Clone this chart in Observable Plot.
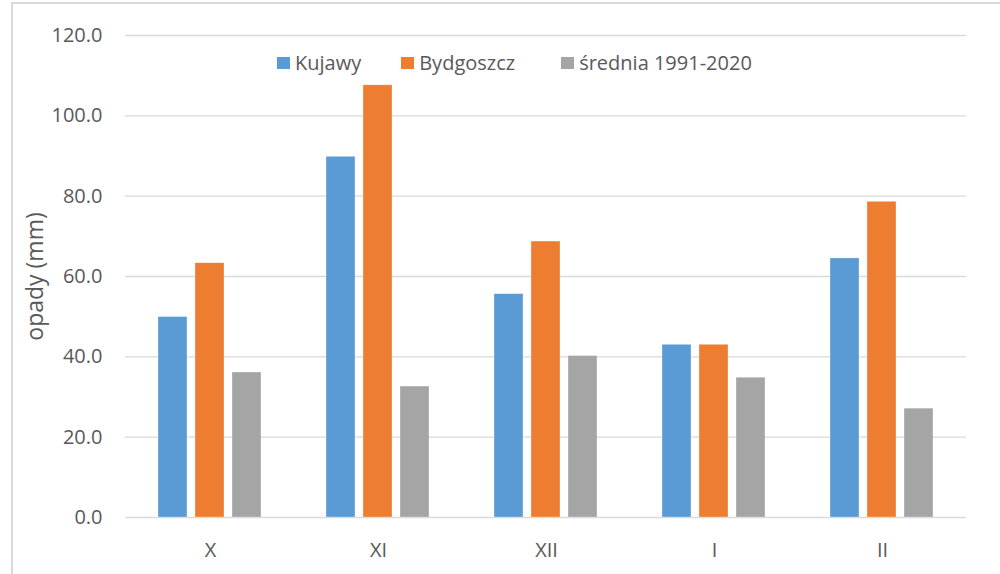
<!DOCTYPE html>
<html>
<head>
<meta charset="utf-8">
<script src="https://cdn.jsdelivr.net/npm/d3@7"></script>
<script src="https://cdn.jsdelivr.net/npm/@observablehq/plot@0.6"></script>
<style>
  html, body { margin: 0; padding: 0; background: white; overflow: hidden; }
  #wrap { position: relative; width: 1000px; height: 574px; overflow: hidden; background: white; }
  #frame { position: absolute; left: 11px; top: 2px; width: 1000px; height: 600px; border: 2px solid #d9d9d9; box-sizing: border-box; pointer-events: none; }
  .layer { position: absolute; left: 0; top: 0; }
  #legend { position: absolute; left: 277px; top: 49px; display: flex; align-items: center; font-family: "Open Sans", sans-serif; font-size: 20px; color: #595959; }
  .item { display: flex; align-items: center; }
  .sw { width: 13px; height: 12px; margin-right: 5px; }
</style>
</head>
<body>
<div id="wrap">
  <div id="base" class="layer"></div>
  <div id="bars" class="layer"></div>
  <div id="legend"></div>
  <div id="frame"></div>
</div>
<script>
const months = ["X", "XI", "XII", "I", "II"];
const series = ["Kujawy", "Bydgoszcz", "średnia 1991-2020"];
const kujawy = [49.9, 89.8, 55.6, 43.0, 64.5];
const bydgoszcz = [63.3, 107.6, 68.7, 43.0, 78.6];
const srednia = [36.1, 32.6, 40.2, 34.8, 27.1];
const colors = ["#5B9BD5", "#ED7D31", "#A5A5A5"];
const yTicks = [0, 20, 40, 60, 80, 100, 120];

const values = [kujawy, bydgoszcz, srednia];
const data = [];
months.forEach((m, i) => {
  series.forEach((s, j) => data.push({month: m, series: s, value: values[j][i]}));
});

const common = {
  width: 1000,
  height: 574,
  marginLeft: 125,
  marginRight: 34,
  marginTop: 35,
  marginBottom: 57,
  y: {domain: [0, 120], ticks: yTicks},
  style: {fontFamily: "Open Sans", fontSize: "20px", color: "#595959", background: "transparent"}
};

// Base layer: gridlines and y axis
const base = Plot.plot({
  ...common,
  marks: [
    Plot.ruleY(yTicks, {stroke: "#d9d9d9", strokeWidth: 1.3}),
    Plot.axisY({ticks: yTicks, tickFormat: d => d.toFixed(1), tickSize: 0, tickPadding: 23,
      label: null, fill: "#595959"}),
    Plot.axisY({ticks: [], tickSize: 0, label: "opady (mm)", labelAnchor: "center", labelArrow: "none",
      labelOffset: 99, fontSize: 23, fill: "#595959"})
  ]
});
document.getElementById("base").appendChild(base);

// Bars layer
const bars = Plot.plot({
  ...common,
  fx: {domain: months, paddingInner: 0.381, paddingOuter: 0.19, label: null},
  x: {domain: series, paddingInner: 0.213, paddingOuter: 0, axis: null},
  color: {domain: series, range: colors},
  marks: [
    Plot.barY(data, {fx: "month", x: "series", y: "value", fill: "series", stroke: "white", strokeOpacity: 0.5, strokeWidth: 0.6}),
    Plot.axisY({ticks: [], label: null, tickSize: 0}),
    Plot.axisFx({anchor: "bottom", tickSize: 0, tickPadding: 25, label: null, fill: "#595959"})
  ]
});
document.getElementById("bars").appendChild(bars);

const legendGaps = [40, 46, 0];
const legend = document.getElementById("legend");
series.forEach((s, j) => {
  const it = document.createElement("div");
  it.className = "item";
  it.style.marginRight = legendGaps[j] + "px";
  const sw = document.createElement("div");
  sw.className = "sw";
  sw.style.background = colors[j];
  const tx = document.createElement("span");
  tx.textContent = s;
  it.appendChild(sw);
  it.appendChild(tx);
  legend.appendChild(it);
});
</script>
</body>
</html>
